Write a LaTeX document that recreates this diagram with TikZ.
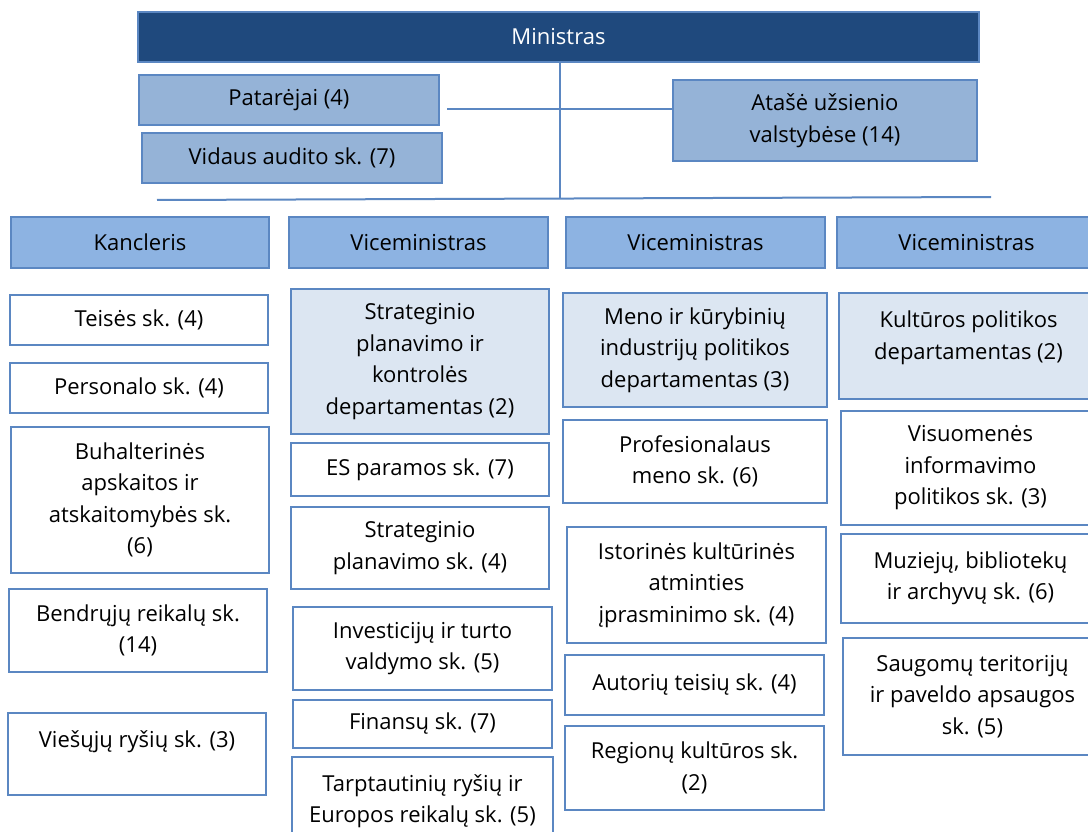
\documentclass[tikz,border=0pt]{standalone}
\usepackage{fontspec}
\setmainfont{Open Sans}
\usepackage{tikz}
\definecolor{navy}{HTML}{1F497D}
\definecolor{edge}{HTML}{5B87C2}
\definecolor{staff}{HTML}{95B3D7}
\definecolor{head}{HTML}{8DB3E2}
\definecolor{dept}{HTML}{DCE6F2}

\begin{document}
\begin{tikzpicture}[x=1pt,y=-1pt,
  box/.style={rectangle,draw=edge,line width=1.3pt,align=center,inner sep=0pt,font=\fontsize{22}{31.5}\selectfont},
  topbox/.style={box,fill=navy,text=white},
  staffbox/.style={box,fill=staff},
  headbox/.style={box,fill=head},
  deptbox/.style={box,fill=dept},
  unitbox/.style={box,fill=white},
  link/.style={draw=edge,line width=1.5pt}]
\useasboundingbox (0,0) rectangle (1088,832);
\clip (0,0) rectangle (1088,832);
\node[topbox,minimum width=841,minimum height=50] (min) at (558.5,37) {Ministras};
\node[staffbox,minimum width=300,minimum height=50] (pat) at (289,100) {Patarėjai (4)};
\node[staffbox,minimum width=300,minimum height=50] (aud) at (292,158) {Vidaus audito sk. (7)};
\node[staffbox,minimum width=304,minimum height=81] (atase) at (825,120.5) {Atašė užsienio\\valstybėse (14)};
\coordinate (hl) at (447,109);
\coordinate (vb) at (560,198);
\coordinate (bl) at (157,200);
\coordinate (br) at (991,197);
\draw[link] (min.south -| vb) -- (vb);
\draw[link] (hl) -- (atase.west |- hl);
\draw[link,line width=2pt] (bl) -- (br);
\node[headbox,minimum width=258,minimum height=51] (kanc) at (140,242.5) {Kancleris};
\node[headbox,minimum width=259,minimum height=51] (vice1) at (418.5,242.5) {Viceministras};
\node[headbox,minimum width=259,minimum height=51] (vice2) at (695.5,242.5) {Viceministras};
\node[headbox,minimum width=259,minimum height=51] (vice3) at (966.5,242.5) {Viceministras};
\node[unitbox,minimum width=258,minimum height=50] (teis) at (139,320) {Teisės sk. (4)};
\node[unitbox,minimum width=258,minimum height=50] (pers) at (139,388) {Personalo sk. (4)};
\node[unitbox,minimum width=258,minimum height=146] (buh) at (140,500) {Buhalterinės\\apskaitos ir\\atskaitomybės sk.\\(6)};
\node[unitbox,minimum width=258,minimum height=83] (bendr) at (138,630.5) {Bendrųjų reikalų sk.\\(14)};
\node[unitbox,minimum width=258,minimum height=82,text depth=30] (rys) at (137,754) {Viešųjų ryšių sk. (3)};
\node[deptbox,minimum width=258,minimum height=145] (spk) at (420,361.5) {Strateginio\\planavimo ir\\kontrolės\\departamentas (2)};
\node[unitbox,minimum width=258,minimum height=53] (es) at (420,469.5) {ES paramos sk. (7)};
\node[unitbox,minimum width=258,minimum height=82] (strat) at (420,548) {Strateginio\\planavimo sk. (4)};
\node[unitbox,minimum width=259,minimum height=83] (inv) at (422.5,648.5) {Investicijų ir turto\\valdymo sk. (5)};
\node[unitbox,minimum width=259,minimum height=48] (fin) at (422.5,724) {Finansų sk. (7)};
\node[unitbox,minimum width=261,minimum height=88] (tarpt) at (422.5,801) {Tarptautinių ryšių ir\\Europos reikalų sk. (5)};
\node[deptbox,minimum width=264,minimum height=114] (meno) at (695,350) {Meno ir kūrybinių\\industrijų politikos\\departamentas (3)};
\node[unitbox,minimum width=264,minimum height=83] (prof) at (695,461.5) {Profesionalaus\\meno sk. (6)};
\node[unitbox,minimum width=259,minimum height=116] (ist) at (696.5,585) {Istorinės kultūrinės\\atminties\\įprasminimo sk. (4)};
\node[unitbox,minimum width=259,minimum height=60] (aut) at (694.5,685) {Autorių teisių sk. (4)};
\node[unitbox,minimum width=259,minimum height=84] (reg) at (694.5,768) {Regionų kultūros sk.\\(2)};
\node[deptbox,minimum width=259,minimum height=106,text depth=22] (kult) at (968.5,346) {Kultūros politikos\\departamentas (2)};
\node[unitbox,minimum width=259,minimum height=114] (vis) at (970.5,468) {Visuomenės\\informavimo\\politikos sk. (3)};
\node[unitbox,minimum width=259,minimum height=89] (muz) at (970.5,578.5) {Muziejų, bibliotekų\\ir archyvų sk. (6)};
\node[unitbox,minimum width=259,minimum height=117] (saug) at (972.5,696.5) {Saugomų teritorijų\\ir paveldo apsaugos\\sk. (5)};
\end{tikzpicture}
\end{document}
